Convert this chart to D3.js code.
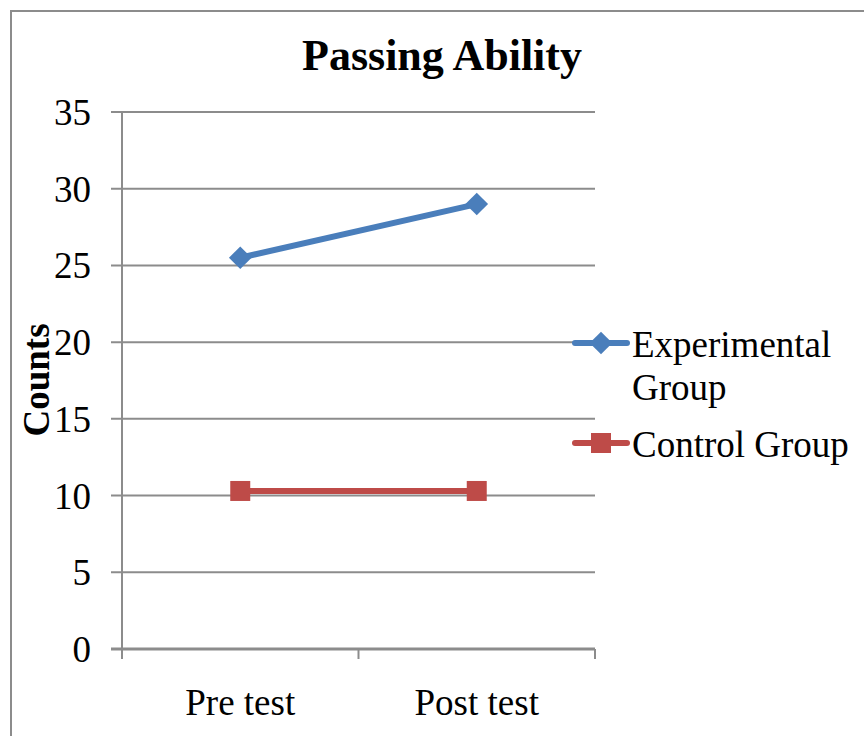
<!DOCTYPE html>
<html>
<head>
<meta charset="utf-8">
<script src="https://cdn.jsdelivr.net/npm/d3@7"></script>
<style>
  body { margin: 0; background: #fff; }
  #chart text { font-family: "Liberation Serif", "Times New Roman", serif; fill: #000; }
</style>
</head>
<body>
<div id="chart"></div>
<script>
var width = 864, height = 736;

var categories = ["Pre test", "Post test"];
var seriesNames = ["Experimental Group", "Control Group"];
var experimental = [25.5, 29];
var control = [10.3, 10.3];
var yTicks = [0, 5, 10, 15, 20, 25, 30, 35];

var colors = ["#4a7ebb", "#be4b48"];

var plot = { left: 122, right: 595, top: 112, bottom: 649 };

var svg = d3.select("#chart").append("svg")
    .attr("width", width)
    .attr("height", height);

// outer chart frame (runs off the right and bottom of the picture)
svg.append("rect")
    .attr("x", 11).attr("y", 11)
    .attr("width", width + 20).attr("height", height + 20)
    .attr("fill", "none")
    .attr("stroke", "#8c8c8c")
    .attr("stroke-width", 2);

var x = d3.scaleBand()
    .domain(categories)
    .range([plot.left, plot.right]);

var y = d3.scaleLinear()
    .domain([0, 35])
    .range([plot.bottom, plot.top]);

// gridlines + tick marks on the left
svg.append("g")
    .selectAll("line")
    .data(yTicks)
    .enter()
    .append("line")
    .attr("x1", plot.left - 11)
    .attr("x2", plot.right)
    .attr("y1", function(d) { return y(d); })
    .attr("y2", function(d) { return y(d); })
    .attr("stroke", "#8c8c8c")
    .attr("stroke-width", function(d) { return d === 0 ? 3 : 2; });

// y tick labels
svg.append("g")
    .selectAll("text")
    .data(yTicks)
    .enter()
    .append("text")
    .attr("x", 91)
    .attr("y", function(d) { return y(d); })
    .attr("dy", "0.35em")
    .attr("text-anchor", "end")
    .style("font-size", "37px")
    .text(function(d) { return d; });

// y axis line
svg.append("line")
    .attr("x1", plot.left).attr("x2", plot.left)
    .attr("y1", plot.top).attr("y2", plot.bottom + 10)
    .attr("stroke", "#8c8c8c")
    .attr("stroke-width", 2);

// x axis ticks between categories
var xEdges = [plot.left].concat(categories.map(function(c) { return x(c) + x.bandwidth(); }));
svg.append("g")
    .selectAll("line")
    .data(xEdges)
    .enter()
    .append("line")
    .attr("x1", function(d) { return d; })
    .attr("x2", function(d) { return d; })
    .attr("y1", plot.bottom)
    .attr("y2", plot.bottom + 10)
    .attr("stroke", "#8c8c8c")
    .attr("stroke-width", 2);

// x labels
svg.append("g")
    .selectAll("text")
    .data(categories)
    .enter()
    .append("text")
    .attr("x", function(d) { return x(d) + x.bandwidth() / 2; })
    .attr("y", 715)
    .attr("text-anchor", "middle")
    .style("font-size", "37px")
    .text(function(d) { return d; });

// title
svg.append("text")
    .attr("x", 442)
    .attr("y", 70)
    .attr("text-anchor", "middle")
    .style("font-size", "44px")
    .style("font-weight", "bold")
    .text("Passing Ability");

// y axis title
svg.append("text")
    .attr("transform", "translate(49,380) rotate(-90)")
    .attr("text-anchor", "middle")
    .style("font-size", "37px")
    .style("font-weight", "bold")
    .text("Counts");

var line = d3.line()
    .x(function(d, i) { return x(categories[i]) + x.bandwidth() / 2; })
    .y(function(d) { return y(d); });

var diamond = d3.symbol().type(d3.symbolSquare).size(16 * 16);
var square = d3.symbol().type(d3.symbolSquare).size(20 * 20);

// experimental
svg.append("path")
    .datum(experimental)
    .attr("fill", "none")
    .attr("stroke", colors[0])
    .attr("stroke-width", 6)
    .attr("d", line);

svg.append("g")
    .selectAll("path")
    .data(experimental)
    .enter()
    .append("path")
    .attr("d", diamond)
    .attr("fill", colors[0])
    .attr("transform", function(d, i) {
      return "translate(" + (x(categories[i]) + x.bandwidth() / 2) + "," + y(d) + ") rotate(45)";
    });

// control
svg.append("path")
    .datum(control)
    .attr("fill", "none")
    .attr("stroke", colors[1])
    .attr("stroke-width", 6)
    .attr("d", line);

svg.append("g")
    .selectAll("path")
    .data(control)
    .enter()
    .append("path")
    .attr("d", square)
    .attr("fill", colors[1])
    .attr("transform", function(d, i) {
      return "translate(" + (x(categories[i]) + x.bandwidth() / 2) + "," + y(d) + ")";
    });

// legend
var legendRows = [
  { name: seriesNames[0], lines: ["Experimental", "Group"], y: 343, sym: diamond, rot: 45 },
  { name: seriesNames[1], lines: ["Control Group"], y: 443, sym: square, rot: 0 }
];

var legend = svg.append("g").attr("class", "legend");

legendRows.forEach(function(r, i) {
  legend.append("line")
      .attr("x1", 575).attr("x2", 627)
      .attr("y1", r.y).attr("y2", r.y)
      .attr("stroke", colors[i])
      .attr("stroke-width", 6)
      .attr("stroke-linecap", "round");

  legend.append("path")
      .attr("d", r.sym)
      .attr("fill", colors[i])
      .attr("transform", "translate(601," + r.y + ") rotate(" + r.rot + ")");

  legend.append("text")
      .selectAll("tspan")
      .data(r.lines)
      .enter()
      .append("tspan")
      .attr("x", 632)
      .attr("y", function(d, j) { return r.y + 14 + j * 43; })
      .style("font-size", "37px")
      .text(function(d) { return d; });
});
</script>
</body>
</html>
